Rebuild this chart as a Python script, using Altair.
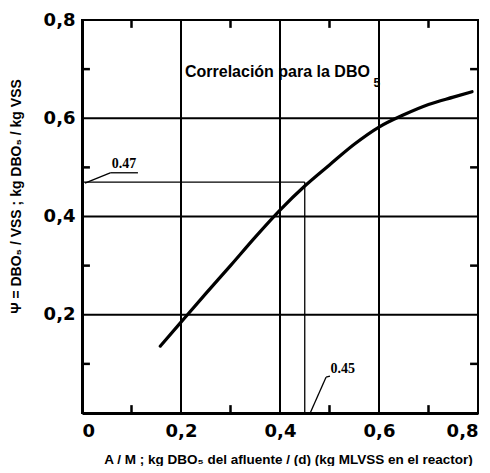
import altair as alt
import pandas as pd

# Curve
curve_x = [0.158, 0.2, 0.25, 0.3, 0.35, 0.4, 0.45, 0.5, 0.55, 0.6, 0.65, 0.7, 0.75, 0.788]
curve_y = [0.136, 0.185, 0.243, 0.300, 0.358, 0.413, 0.462, 0.505, 0.547, 0.582, 0.607, 0.628, 0.643, 0.654]

major = [0, 0.2, 0.4, 0.6, 0.8]
y_labels = [0.2, 0.4, 0.6, 0.8]
inner_grid = [0.2, 0.4, 0.6]
minor = [0.1, 0.3, 0.5, 0.7]

# Reading lines for A/M = 0.45 -> psi = 0.47, and label leaders
seg_x = [0.0, 0.45, 0.006, 0.057, 0.461, 0.493]
seg_x2 = [0.45, 0.45, 0.057, 0.113, 0.493, 0.501]
seg_y = [0.47, 0.0, 0.468, 0.489, 0.0, 0.073]
seg_y2 = [0.47, 0.47, 0.489, 0.489, 0.073, 0.075]

note_text = ["0.47", "0.45"]
note_x = [0.085, 0.502]
note_y = [0.492, 0.076]

title_text = "Correlación para la DBO"
title_x = 0.208
title_y = 0.695
sub_x = 0.589
sub_y = 0.672

curve = pd.DataFrame({"x": curve_x, "y": curve_y})
segs = pd.DataFrame({"x": seg_x, "x2": seg_x2, "y": seg_y, "y2": seg_y2})
note1 = pd.DataFrame({"t": note_text[:1], "x": note_x[:1], "y": note_y[:1]})
note2 = pd.DataFrame({"t": note_text[1:], "x": note_x[1:], "y": note_y[1:]})

vgrid = pd.DataFrame({"x": inner_grid})
hgrid = pd.DataFrame({"y": inner_grid})

ticklen = 0.016
tick_rows = []
for v in minor:
    tick_rows.append({"x": v, "x2": v, "y": 0.0, "y2": ticklen})
    tick_rows.append({"x": v, "x2": v, "y": 0.8, "y2": 0.8 - ticklen})
    tick_rows.append({"x": 0.0, "x2": ticklen, "y": v, "y2": v})
    tick_rows.append({"x": 0.8, "x2": 0.8 - ticklen, "y": v, "y2": v})
ticks = pd.DataFrame(tick_rows)

FONT = "Liberation Sans, DejaVu Sans"
xs = alt.Scale(domain=[0, 0.8], nice=False, zero=False)
ys = alt.Scale(domain=[0, 0.8], nice=False, zero=False)

label_expr = "datum.value == 0 ? '0' : replace(format(datum.value, '.1f'), '.', ',')"

xaxis = alt.Axis(
    values=major, grid=False,
    ticks=False, domainColor="black", domainWidth=3,
    labelExpr=label_expr, labelFont="DejaVu Sans", labelFontWeight="bold",
    labelFontSize=18, labelColor="black", labelPadding=9,
    title="A / M ; kg DBO₅  del afluente / (d) (kg MLVSS en  el reactor)",
    titleFont=FONT, titleFontSize=13.5, titleFontWeight="bold", titleColor="black",
    titleX=206, titleY=46, titleAlign="center", titleBaseline="middle",
)
yaxis = alt.Axis(
    values=y_labels, grid=False,
    ticks=False, domainColor="black", domainWidth=3,
    labelExpr=label_expr, labelFont="DejaVu Sans", labelFontWeight="bold",
    labelFontSize=18, labelColor="black", labelPadding=7,
    title="Ψ = DBO₅ / VSS ; kg DBO₅ / kg VSS",
    titleFont=FONT, titleFontSize=14, titleFontWeight="bold", titleColor="black",
    titleX=-66, titleY=176, titleAlign="center", titleBaseline="middle", titleAngle=270,
)

axes_layer = alt.Chart(curve).mark_point(opacity=0).encode(
    x=alt.X("x:Q", scale=xs, axis=xaxis),
    y=alt.Y("y:Q", scale=ys, axis=yaxis),
)
vgrid_layer = alt.Chart(vgrid).mark_rule(color="black", strokeWidth=2).encode(x="x:Q")
hgrid_layer = alt.Chart(hgrid).mark_rule(color="black", strokeWidth=2).encode(y="y:Q")

base_curve = alt.Chart(curve).encode(x="x:Q", y="y:Q")
line = base_curve.mark_line(color="black", strokeWidth=3.2, interpolate="monotone", strokeCap="round")

seg_layer = alt.Chart(segs).mark_rule(color="black", strokeWidth=1.3).encode(
    x="x:Q", x2="x2:Q", y="y:Q", y2="y2:Q"
)
tick_layer = alt.Chart(ticks).mark_rule(color="black", strokeWidth=2.5).encode(
    x="x:Q", x2="x2:Q", y="y:Q", y2="y2:Q"
)
note_layer1 = alt.Chart(note1).mark_text(
    font="Liberation Serif", fontWeight="bold", fontSize=14, baseline="bottom",
    align="center", color="black"
).encode(x="x:Q", y="y:Q", text="t:N")
note_layer2 = alt.Chart(note2).mark_text(
    font="Liberation Serif", fontWeight="bold", fontSize=14, baseline="bottom",
    align="left", color="black"
).encode(x="x:Q", y="y:Q", text="t:N")

title_df = pd.DataFrame({"t": [title_text], "x": [title_x], "y": [title_y]})
sub_df = pd.DataFrame({"t": ["5"], "x": [sub_x], "y": [sub_y]})
title_layer = alt.Chart(title_df).mark_text(
    font=FONT, fontSize=16, fontWeight="bold", align="left", baseline="middle", color="black"
).encode(x="x:Q", y="y:Q", text="t:N")
sub_layer = alt.Chart(sub_df).mark_text(
    font=FONT, fontSize=12, fontWeight="bold", align="left", baseline="middle", color="black"
).encode(x="x:Q", y="y:Q", text="t:N")

chart = alt.layer(
    axes_layer, vgrid_layer, hgrid_layer, seg_layer, tick_layer, line,
    note_layer1, note_layer2, title_layer, sub_layer
).properties(
    width=396, height=393,
    autosize=alt.AutoSizeParams(type="none"),
    padding={"left": 74, "top": 12, "right": 4, "bottom": 53},
    background="white",
).configure_view(stroke="black", strokeWidth=2)

chart.save("out.html", embed_options={"renderer": "svg", "actions": False})
